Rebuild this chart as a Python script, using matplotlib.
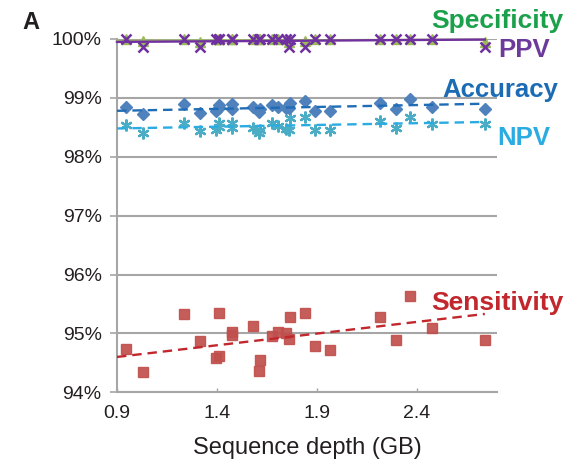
import numpy as np
import matplotlib
matplotlib.use('Agg')
import matplotlib.pyplot as plt

plt.rcParams['font.family'] = ['Liberation Sans', 'DejaVu Sans']

# sequence depth (GB) per sample
depth = np.array([0.947, 1.029, 1.237, 1.317, 1.394, 1.41, 1.41, 1.475, 1.475,
                  1.579, 1.612, 1.615, 1.677, 1.705, 1.744, 1.759, 1.764,
                  1.842, 1.89, 1.964, 2.214, 2.294, 2.367, 2.475, 2.739])

# values in %
specificity = np.array([100, 99.97, 100, 99.95, 100, 100, 100, 100, 100,
                        100, 100, 100, 100, 100, 100, 99.95, 100,
                        99.97, 100, 100, 100, 100, 100, 100, 99.95])
ppv = np.array([100, 99.86, 100, 99.86, 100, 100, 100, 100, 100,
                100, 100, 100, 100, 100, 100, 99.86, 100,
                99.86, 100, 100, 100, 100, 100, 100, 99.87])
accuracy = np.array([98.85, 98.72, 98.90, 98.75, 98.78, 98.88, 98.83, 98.89, 98.81,
                     98.84, 98.76, 98.81, 98.88, 98.85, 98.83, 98.83, 98.92,
                     98.94, 98.78, 98.78, 98.92, 98.81, 98.98, 98.85, 98.81])
npv = np.array([98.54, 98.40, 98.58, 98.43, 98.46, 98.58, 98.51, 98.57, 98.49,
                98.49, 98.40, 98.46, 98.57, 98.52, 98.47, 98.46, 98.65,
                98.68, 98.46, 98.46, 98.61, 98.49, 98.67, 98.56, 98.55])
sensitivity = np.array([94.74, 94.35, 95.33, 94.87, 94.58, 95.35, 94.62, 95.03, 94.97,
                        95.12, 94.36, 94.54, 94.95, 95.03, 95.01, 94.90, 95.28,
                        95.35, 94.79, 94.72, 95.28, 94.89, 95.64, 95.09, 94.89])

# trendlines (start at axis, end at deepest sample)
trend_x = [0.9, 2.739]
spec_trend = [99.97, 99.99]
ppv_trend = [99.95, 99.99]
acc_trend = [98.78, 98.90]
npv_trend = [98.48, 98.59]
sens_trend = [94.60, 95.33]

xticks = [0.9, 1.4, 1.9, 2.4]
yticks = [94, 95, 96, 97, 98, 99, 100]

grey = '#A6A6A6'
dash = (0, (4, 2.5))

fig = plt.figure(figsize=(5.71, 4.66), dpi=100)
ax = fig.add_axes([0.2049, 0.1582, 0.6655, 0.7582])

# sensitivity
ax.plot(depth, sensitivity, 's', ms=7.8, color='#C0504D', alpha=0.92, zorder=3)
ax.plot(trend_x, sens_trend, color='#C1272D', lw=1.7, ls=dash, zorder=4)

# NPV
ax.plot(depth, npv, ls='none', marker=(6, 2, 0), ms=8.5, mew=1.6, color='#4BACC6', zorder=3)
ax.plot(trend_x, npv_trend, color='#2AACE2', lw=1.7, ls=dash, zorder=4)

# accuracy
ax.plot(depth, accuracy, 'D', ms=6.5, color='#4F81BD', zorder=3)
ax.plot(trend_x, acc_trend, color='#1F6DB6', lw=1.7, ls=dash, zorder=4)

# specificity + PPV
ax.plot(depth, specificity, '^', ms=7, color='#9BBB59', zorder=3, clip_on=False)
ax.plot(trend_x, spec_trend, color='#9BBB59', lw=1.5, zorder=4, clip_on=False)
ax.plot(depth, ppv, 'x', ms=7.5, mew=1.8, color='#7030A0', zorder=5, clip_on=False)
ax.plot(trend_x, ppv_trend, color='#7030A0', lw=1.7, zorder=5, clip_on=False)

ax.set_xlim(0.9, 2.8)
ax.set_ylim(94, 100)
ax.set_xticks(xticks)
ax.set_xticklabels([f'{t:.1f}' for t in xticks])
ax.set_yticks(yticks)
ax.set_yticklabels([f'{t}%' for t in yticks])

ax.grid(axis='y', color=grey, lw=1.5, zorder=1)
ax.set_axisbelow(True)
for s in ['top', 'right']:
    ax.spines[s].set_visible(False)
for s in ['left', 'bottom']:
    ax.spines[s].set_color(grey)
    ax.spines[s].set_linewidth(1.5)

ax.tick_params(axis='y', direction='out', length=5, width=1.2, color=grey,
               labelsize=14, labelcolor='#231F20', pad=6)
ax.tick_params(axis='x', direction='in', length=3, width=1.0, color=grey,
               labelsize=14, labelcolor='#231F20', pad=9)

ax.set_xlabel('Sequence depth (GB)', fontsize=17, color='#231F20', labelpad=11)

# series labels
fig.text(563 / 571, 1 - 28 / 466, 'Specificity', color='#1BA14B', fontsize=19,
         fontweight='bold', ha='right', va='baseline')
fig.text(550 / 571, 1 - 57 / 466, 'PPV', color='#6C3A9B', fontsize=18.5,
         fontweight='bold', ha='right', va='baseline')
fig.text(558 / 571, 1 - 97 / 466, 'Accuracy', color='#1C6CB5', fontsize=18.5,
         fontweight='bold', ha='right', va='baseline')
fig.text(550 / 571, 1 - 145 / 466, 'NPV', color='#2AACE2', fontsize=18.5,
         fontweight='bold', ha='right', va='baseline')
fig.text(563 / 571, 1 - 310 / 466, 'Sensitivity', color='#C1272D', fontsize=19,
         fontweight='bold', ha='right', va='baseline')

fig.text(22 / 571, 1 - 29 / 466, 'A', color='#231F20', fontsize=17,
         fontweight='bold', ha='left', va='baseline')

fig.savefig('out.png', dpi=100)
